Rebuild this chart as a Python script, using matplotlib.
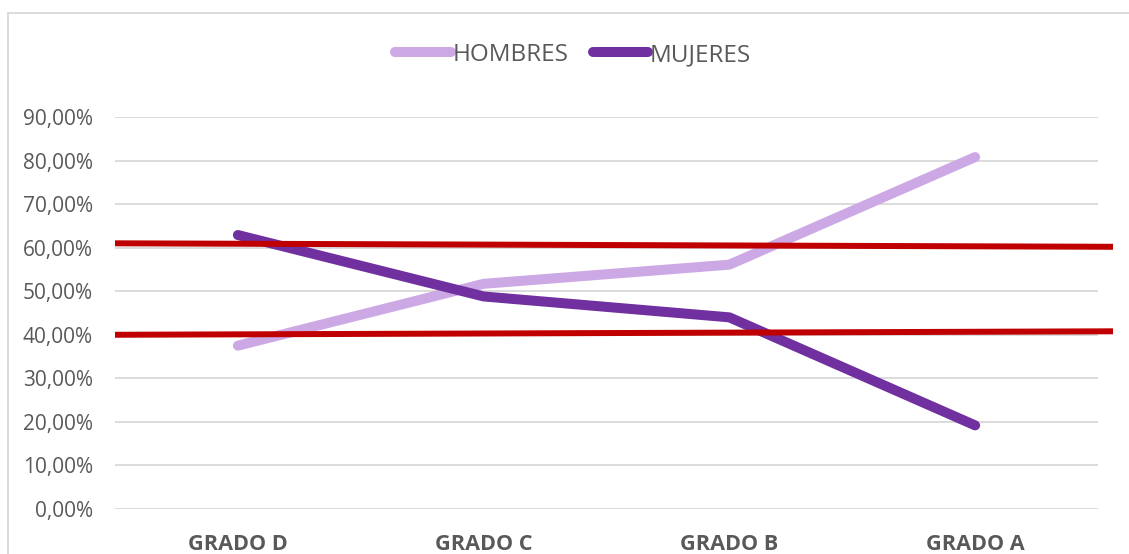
import matplotlib
matplotlib.use("Agg")
import matplotlib.pyplot as plt
from matplotlib.patches import Rectangle
from matplotlib.ticker import FuncFormatter
from matplotlib.transforms import blended_transform_factory

# ---- data ----
categories = ["GRADO D", "GRADO C", "GRADO B", "GRADO A"]
hombres = [37.5, 51.7, 56.1, 80.8]
mujeres = [62.9, 48.8, 44.0, 19.2]
red_upper = [61.0, 60.2]   # value at left end, value at right end
red_lower = [40.0, 40.8]
y_ticks = [0, 10, 20, 30, 40, 50, 60, 70, 80, 90]

# ---- style ----
plt.rcParams['font.family'] = ['Open Sans', 'DejaVu Sans']
txt = '#595959'
grid = '#D9D9D9'
c_h = '#CCA9E4'
c_m = '#7030A0'
c_red = '#C00000'

W, H = 1129, 554
fig = plt.figure(figsize=(W / 100, H / 100), dpi=100)
fig.patch.set_facecolor('white')

# chart border
fig.patches.append(Rectangle((8 / W, -0.1), 1.2, (H - 13) / H + 0.1,
                             transform=fig.transFigure, fill=False,
                             edgecolor=grid, linewidth=1.3))

ax = fig.add_axes([115 / W, 1 - 509 / H, (1098 - 115) / W, (509 - 117) / H])
x = list(range(len(categories)))
ax.set_xlim(-0.5, len(categories) - 0.5)
ax.set_ylim(0, 90)

for s in ax.spines.values():
    s.set_visible(False)
ax.set_yticks(y_ticks)
ax.yaxis.grid(True, color=grid, linewidth=1.3)
ax.set_axisbelow(True)
ax.yaxis.set_major_formatter(FuncFormatter(lambda v, p: f"{v:.2f}%".replace('.', ',')))
ax.tick_params(axis='y', length=0, pad=16, labelsize=15, labelcolor=txt)
ax.set_xticks(x)
ax.set_xticklabels(categories, fontweight='bold')
ax.tick_params(axis='x', length=0, pad=18, labelsize=15.6, labelcolor=txt)

lh, = ax.plot(x, hombres, color=c_h, linewidth=7.2, solid_capstyle='round',
              solid_joinstyle='round', label='HOMBRES', zorder=3)
lm, = ax.plot(x, mujeres, color=c_m, linewidth=7.2, solid_capstyle='round',
              solid_joinstyle='round', label='MUJERES', zorder=4)

# red reference lines (extend slightly beyond plot area)
tr = blended_transform_factory(ax.transAxes, ax.transData)
x_end = (1113 - 115) / (1098 - 115)
for vals in (red_upper, red_lower):
    ax.plot([0, x_end], vals, color=c_red, linewidth=4.3, solid_capstyle='butt',
            transform=tr, clip_on=False, zorder=5)

leg = fig.legend(handles=[lh, lm], loc='center', bbox_to_anchor=(573 / W, 1 - 55 / H),
                 ncol=2, frameon=False, fontsize=17.5, handlelength=2.3,
                 handletextpad=0.05, columnspacing=1.0, labelcolor=txt)

fig.savefig('out.png', dpi=100)
